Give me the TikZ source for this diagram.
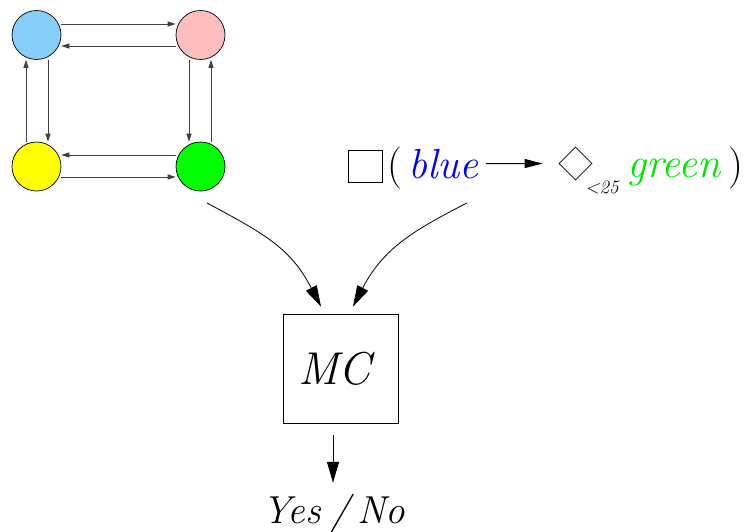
\documentclass[tikz,border=0pt]{standalone}
\usetikzlibrary{arrows.meta,shapes.geometric}
\definecolor{sblue}{RGB}{135,206,250}
\definecolor{spink}{RGB}{255,190,190}
\definecolor{syellow}{RGB}{255,255,0}
\definecolor{sgreen}{RGB}{0,255,0}
\definecolor{tblue}{RGB}{0,0,255}
\definecolor{tgreen}{RGB}{0,230,0}
\begin{document}
\begin{tikzpicture}[x=1pt,y=-1pt,
 state/.style={circle,draw=black,line width=0.7pt,minimum size=49pt,inner sep=0pt},
 small/.style={-{Triangle[length=8pt,width=5pt]},line width=0.9pt,draw=black!75,fill=black},
 big/.style={-{Triangle[length=21pt,width=12pt]},line width=0.8pt},
 mid/.style={-{Triangle[length=18pt,width=9pt]},line width=0.9pt},
 ftxt/.style={font=\fontsize{42}{50}\selectfont\itshape,inner sep=0pt,anchor=base west},
 utxt/.style={font=\fontsize{42}{50}\selectfont,inner sep=0pt,anchor=base west},
 stxt/.style={font=\fontsize{19}{22}\selectfont\itshape,inner sep=0pt,anchor=base west}]
\useasboundingbox (0,0) rectangle (748,531);
% graph
\node[state,fill=sblue] (b) at (36.5,35) {};
\node[state,fill=spink] (p) at (200.5,35) {};
\node[state,fill=syellow] (y) at (36.5,166.5) {};
\node[state,fill=sgreen] (g) at (200.5,166.5) {};
\draw[small] ([yshift=11pt]b.east) -- ([yshift=11pt]p.west);
\draw[small] ([yshift=-11pt]p.west) -- ([yshift=-11pt]b.east);
\draw[small] ([xshift=11.5pt]b.south) -- ([xshift=11.5pt]y.north);
\draw[small] ([xshift=-10.5pt]y.north) -- ([xshift=-10.5pt]b.south);
\draw[small] ([xshift=-11.5pt]p.south) -- ([xshift=-11.5pt]g.north);
\draw[small] ([xshift=10.5pt]g.north) -- ([xshift=10.5pt]p.south);
\draw[small] ([yshift=11.5pt]g.west) -- ([yshift=11.5pt]y.east);
\draw[small] ([yshift=-10.5pt]y.east) -- ([yshift=-10.5pt]g.west);
% formula
\node[draw,line width=0.8pt,minimum width=34pt,minimum height=32pt,inner sep=0pt] (sq) at (365,166) {};
\node[utxt] (lp) at (387,178) {(};
\node[ftxt,text=tblue] (bl) at (408,178) {blue};
\node[draw,shape=diamond,line width=0.8pt,minimum width=33pt,minimum height=33pt,inner sep=0pt] (dm) at (575.5,163.5) {};
\node[stxt] (lt) at (585,193) {<25};
\node[ftxt,text=tgreen] (gr) at (627,177) {green};
\node[utxt] (rp) at (728,178) {)};
\draw[mid] ([xshift=7pt]bl.east) -- ([xshift=-16pt]dm.west);
% model checker
\node[draw,line width=0.8pt,minimum width=115pt,minimum height=109pt,inner sep=0pt,
      font=\fontsize{46}{56}\selectfont\itshape] (mc) at (340.5,368.5) {MC\kern12pt};
\node[font=\fontsize{39}{50}\selectfont\itshape,inner sep=0pt,text height=28pt,text depth=0pt,anchor=base] (yn) at (334,523) {Yes\kern9pt/\kern8pt No};
\coordinate (gs) at (207,203);
\coordinate (fs) at (467,203);
\draw[big] (gs) .. controls (267,235) and (291,249) .. ([xshift=-19.5pt,yshift=7pt]mc.north);
\draw[big] (fs) .. controls (412,231) and (383,249) .. ([xshift=12.5pt,yshift=7pt]mc.north);
\draw[big] ([xshift=-7.5pt,yshift=-12pt]mc.south) -- ([xshift=-1pt,yshift=12pt]yn.north);
\end{tikzpicture}
\end{document}
